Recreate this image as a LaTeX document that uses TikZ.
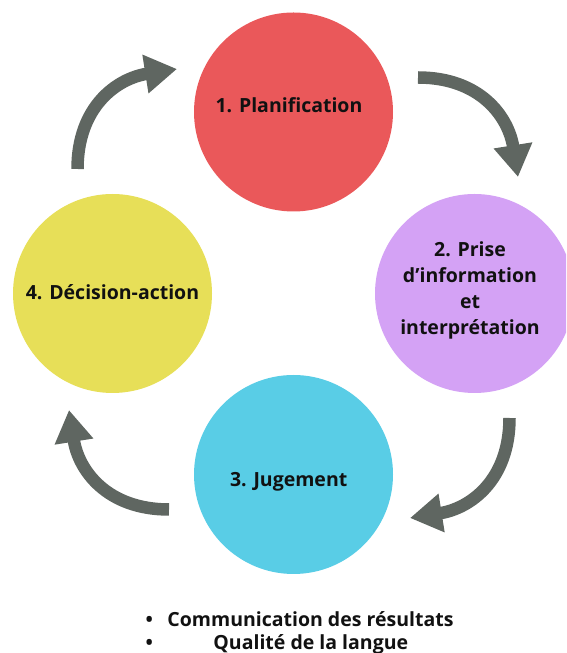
\documentclass[tikz,border=0pt]{standalone}
\usepackage{fontspec}
\setmainfont{Open Sans}
\usetikzlibrary{arrows.meta}
\definecolor{cred}{HTML}{EA585A}
\definecolor{cpurple}{HTML}{D4A2F5}
\definecolor{cyellow}{HTML}{E7DF58}
\definecolor{ccyan}{HTML}{59CDE6}
\definecolor{cgray}{HTML}{5F6661}
\definecolor{ctext}{HTML}{111111}
\begin{document}
\begin{tikzpicture}[x=1pt,y=1pt,
  phase/.style={circle,minimum size=199pt,inner sep=0pt,draw=none},
  lbl/.style={font=\fontsize{19.5}{26}\selectfont\bfseries,text=ctext,align=center,inner sep=0pt},
  cyc/.style={draw=cgray,line width=12.5pt,-{Triangle[length=32pt,width=37pt]},looseness=1.12}]
\clip (0,0) rectangle (566,653);
% circles
\node[phase,fill=cred]    (plan) at (293.5,541)   {};
\node[phase,fill=cpurple] (info) at (474.5,359.5) {};
\node[phase,fill=ccyan]   (jug)  at (293.5,178.5) {};
\node[phase,fill=cyellow] (dec)  at (112.5,359.5) {};
% labels
\node[lbl,anchor=base] (tplan) at (289,540.7) {1. Planification};
\node[lbl,anchor=base] (tdec)  at (112.5,353) {4. Décision-action};
\node[lbl,anchor=base] (tjug)  at (288.7,166.3) {3. Jugement};
\node[lbl,anchor=north] (tinfo) at (470,411.5) {2. Prise\\d’information\\et\\interprétation};
% arrows
\coordinate (a1s) at (77.5,484);  \coordinate (a1e) at (177,584);
\coordinate (a2s) at (418,575.5); \coordinate (a2e) at (518,476);
\coordinate (a3s) at (509.5,235); \coordinate (a3e) at (410,135);
\coordinate (a4s) at (169,143.5); \coordinate (a4e) at (69,243);
\draw[cyc] (a1s) to[out=90,in=189] (a1e);
\draw[cyc] (a2s) to[out=0,in=99] (a2e);
\draw[cyc] (a3s) to[out=-90,in=9] (a3e);
\draw[cyc] (a4s) to[out=180,in=-81] (a4e);
% bottom list
\node[lbl,anchor=base] (b1) at (149.3,26.5) {•};
\node[lbl,anchor=base] (l1) at (310.5,26.5) {Communication des résultats};
\node[lbl,anchor=base] (b2) at (149.3,4) {•};
\node[lbl,anchor=base] (l2) at (310.8,4) {Qualité de la langue};
\end{tikzpicture}
\end{document}
